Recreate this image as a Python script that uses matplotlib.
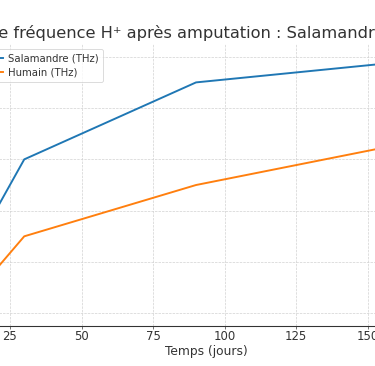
import matplotlib
matplotlib.use("Agg")
import matplotlib.pyplot as plt

# jours après amputation
jours = [7, 30, 90, 180]
salamandre_thz = [1.7, 4.0, 5.5, 6.0]
humain_thz = [1.0, 2.5, 3.5, 4.5]

titre = "Courbe de fréquence H⁺ après amputation : Salamandre vs Humain"
gris = "#333333"

plt.rcParams["font.family"] = "DejaVu Sans"
plt.rcParams["text.color"] = gris
plt.rcParams["axes.labelcolor"] = gris
plt.rcParams["xtick.color"] = gris
plt.rcParams["ytick.color"] = gris

# the reference looks like a shrunk render, so draw at dpi 60
fig = plt.figure(figsize=(6.25, 6.1), dpi=60)
# it is also a crop of a wider chart: the axes run past both edges
ax = fig.add_axes([-0.177, 0.109, 1.453, 0.771])

ax.plot(jours, salamandre_thz, color="#1f77b4", lw=2.3, label="Salamandre (THz)")
ax.plot(jours, humain_thz, color="#ff7f0e", lw=2.3, label="Humain (THz)")

ax.set_title(titre, fontsize=19.5, pad=7, x=0.4895)
ax.set_xlabel("Temps (jours)", fontsize=14.7, labelpad=3)
ax.set_ylabel("Fréquence (THz)", fontsize=14.7)
ax.tick_params(labelsize=14, length=3, pad=1.5)
ax.grid(True, linestyle="--", color="#d0d0d0", lw=0.8)
ax.spines["top"].set_visible(False)
ax.spines["right"].set_visible(False)
ax.spines["bottom"].set_color(gris)
ax.spines["bottom"].set_linewidth(1.3)
ax.legend(loc="upper left", fontsize=12.2, bbox_to_anchor=(-21 / 375, 1 - 49 / 366),
          bbox_transform=fig.transFigure, borderaxespad=0, handletextpad=0.5,
          labelspacing=0.45)

fig.savefig("out.png", dpi=60)
